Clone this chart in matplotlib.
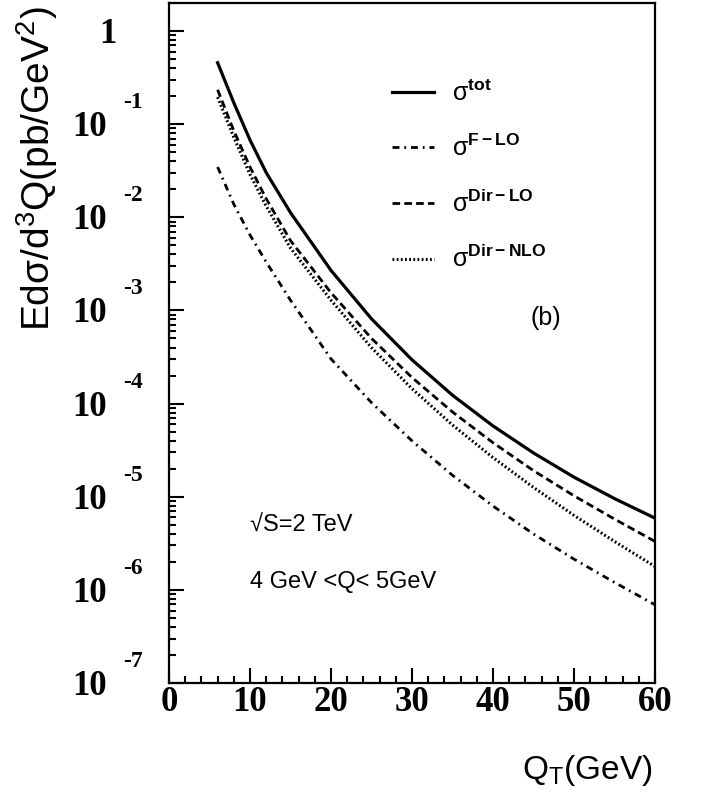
import numpy as np
import matplotlib
matplotlib.use('Agg')
import matplotlib.pyplot as plt
import matplotlib.transforms as mtransforms
from matplotlib.ticker import MultipleLocator, LogLocator, NullFormatter

plt.rcParams['font.family'] = 'Liberation Sans'
plt.rcParams['mathtext.fontset'] = 'custom'
plt.rcParams['mathtext.rm'] = 'Liberation Sans'
plt.rcParams['mathtext.it'] = 'Liberation Sans:italic'
plt.rcParams['mathtext.bf'] = 'Liberation Sans:bold'
plt.rcParams['lines.scale_dashes'] = False

# transverse momentum grid (GeV)
qt = [6, 8, 10, 12, 15, 20, 25, 30, 35, 40, 45, 50, 55, 60]

# log10 of E dsigma/d^3Q in pb/GeV^2
log_tot = [-0.34, -0.77, -1.17, -1.52, -1.95, -2.57, -3.09, -3.53, -3.91, -4.24, -4.53, -4.79, -5.02, -5.23]
log_f_lo = [-1.46, -1.86, -2.19, -2.48, -2.89, -3.52, -3.99, -4.40, -4.77, -5.10, -5.40, -5.67, -5.92, -6.16]
log_dir_lo = [-0.63, -1.07, -1.46, -1.80, -2.25, -2.81, -3.30, -3.72, -4.09, -4.42, -4.72, -4.99, -5.24, -5.48]
log_dir_nlo = [-0.71, -1.14, -1.54, -1.88, -2.33, -2.89, -3.40, -3.84, -4.23, -4.58, -4.90, -5.20, -5.48, -5.75]

decades = [0, -1, -2, -3, -4, -5, -6, -7]
xticks = [0, 10, 20, 30, 40, 50, 60]

fig = plt.figure(figsize=(7.04, 7.93), dpi=100)
ax = fig.add_axes([169 / 704, 1 - 683 / 793, 486 / 704, 680 / 793])

q = np.array(qt)
ax.plot(q, 10 ** np.array(log_tot), color='black', lw=2.3, ls='-',
        label=r'$\mathrm{\sigma}^{\mathbf{tot}}$')
ax.plot(q, 10 ** np.array(log_f_lo), color='black', lw=2.0, ls=(0, (5, 3.5, 1.3, 3.5)),
        label=r'$\mathrm{\sigma}^{\mathbf{F-LO}}$')
ax.plot(q, 10 ** np.array(log_dir_lo), color='black', lw=2.0, ls=(0, (5.5, 3)),
        label=r'$\mathrm{\sigma}^{\mathbf{Dir-LO}}$')
ax.plot(q, 10 ** np.array(log_dir_nlo), color='black', lw=2.2, ls=(0, (1.3, 1.7)),
        label=r'$\mathrm{\sigma}^{\mathbf{Dir-NLO}}$')

ax.set_yscale('log')
ax.set_xlim(0, 60)
ax.set_ylim(1e-7, 2.0)

for s in ax.spines.values():
    s.set_linewidth(1.6)

ax.set_xticks(xticks)
ax.xaxis.set_minor_locator(MultipleLocator(2))
ax.yaxis.set_major_locator(LogLocator(base=10, numticks=20))
ax.yaxis.set_minor_locator(LogLocator(base=10, subs=np.arange(2, 10), numticks=20))
ax.yaxis.set_minor_formatter(NullFormatter())
ax.tick_params(which='both', direction='in', top=False, right=False, width=1.5)
ax.tick_params(which='major', length=11)
ax.tick_params(which='minor', length=5)
ax.tick_params(axis='y', labelleft=False)
ax.tick_params(axis='x', pad=2)
ax.set_xticklabels([str(t) for t in xticks], family='Liberation Serif',
                   fontweight='bold', fontsize=25)

# decade labels drawn as "10" with a detached exponent
ytr = ax.get_yaxis_transform()
base_tr = mtransforms.offset_copy(ytr, fig=fig, x=-62, y=-12, units='dots')
exp_tr = mtransforms.offset_copy(ytr, fig=fig, x=-26, y=16, units='dots')
one_tr = mtransforms.offset_copy(ytr, fig=fig, x=-52, y=-12, units='dots')
for e in decades:
    if e == 0:
        ax.text(0, 10.0 ** e, '1', transform=one_tr, ha='right', va='baseline',
                family='Liberation Serif', fontweight='bold', fontsize=25)
        continue
    ax.text(0, 10.0 ** e, '10', transform=base_tr, ha='right', va='baseline',
            family='Liberation Serif', fontweight='bold', fontsize=25)
    ax.text(0, 10.0 ** e, str(e), transform=exp_tr, ha='right', va='baseline',
            family='Liberation Serif', fontweight='bold', fontsize=17)

fig.text(652 / 704, 1 - 770 / 793, r'Q$_\mathrm{T}$(GeV)', ha='right', va='center', fontsize=24)
fig.text(37 / 704, 1 - 6 / 793, r'Ed$\mathrm{\sigma}$/d$^3$Q(pb/GeV$^2$)', rotation=90,
         ha='center', va='top', fontsize=28)

ax.legend(loc='upper left', bbox_to_anchor=(0.458, 0.887), frameon=False,
          fontsize=18, handlelength=1.7, handletextpad=0.7, labelspacing=1.15,
          borderpad=0, borderaxespad=0)

ax.text(0.776, 0.537, '(b)', transform=ax.transAxes, ha='center', va='center', fontsize=18)
ax.text(0.167, 0.232, '√S=2 TeV', transform=ax.transAxes, ha='left', va='center', fontsize=17)
ax.text(0.167, 0.148, '4 GeV <Q< 5GeV', transform=ax.transAxes, ha='left', va='center', fontsize=17)

fig.savefig('out.png', dpi=100)
